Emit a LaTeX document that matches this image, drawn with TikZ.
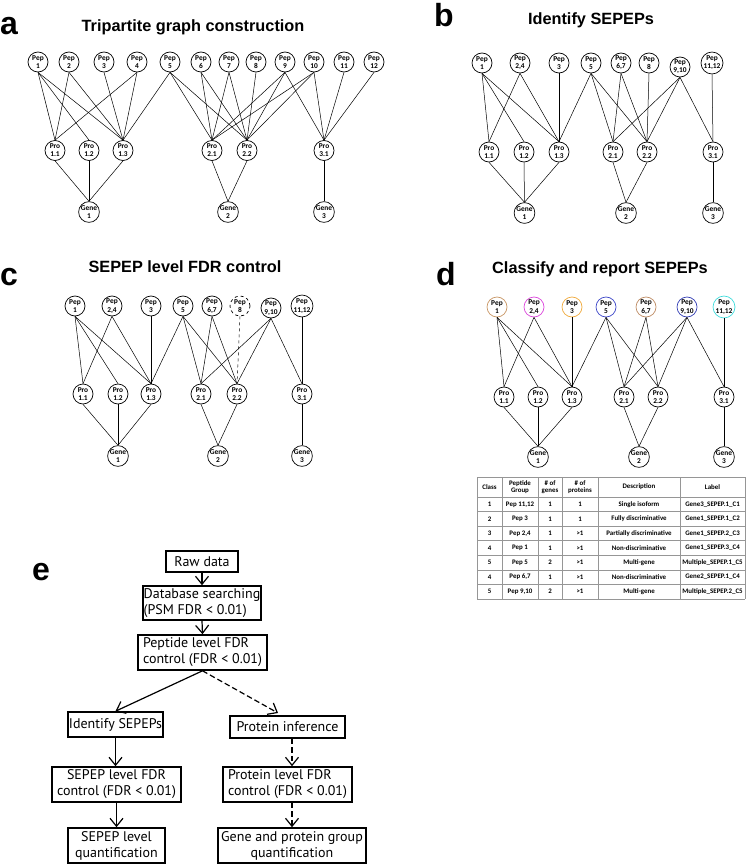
\documentclass[tikz,border=0pt]{standalone}
\usepackage{fontspec}
\setmainfont{Liberation Sans}
\newfontfamily\carlito{Carlito}
\newfontfamily\efont{PT Sans}
\usetikzlibrary{arrows.meta}
\definecolor{cpepa}{RGB}{200,150,100}
\definecolor{cpepb}{RGB}{220,70,220}
\definecolor{cpepc}{RGB}{240,170,60}
\definecolor{cpepd}{RGB}{60,70,200}
\definecolor{cpepe}{RGB}{190,140,100}
\definecolor{cpepf}{RGB}{50,60,180}
\definecolor{cpepg}{RGB}{60,220,220}
\definecolor{tabline}{RGB}{150,150,150}
\tikzset{
  gnode/.style={circle, draw, line width=0.7pt, minimum size=20pt, inner sep=0pt, align=center,
    font=\carlito\bfseries\fontsize{7.4}{8.2}\selectfont},
  edge/.style={line width=0.5pt},
  ptitle/.style={anchor=base, inner sep=0pt, font=\bfseries\fontsize{16.3}{18}\selectfont},
  pletter/.style={anchor=base, inner sep=0pt, font=\bfseries\fontsize{32}{34}\selectfont},
  tcell/.style={inner sep=0pt, align=center, font=\carlito\bfseries\fontsize{6.9}{7.6}\selectfont},
  tline/.style={draw=tabline, line width=0.5pt},
  ebox/.style={draw, line width=1.6pt, inner sep=0pt, font=\efont\fontsize{14}{16}\selectfont},
  earrow/.style={line width=1.2pt, -{Straight Barb[length=8pt,width=13pt,line width=1.2pt]}},
  edash/.style={dash pattern=on 5.5pt off 3pt}
}
\begin{document}
\begin{tikzpicture}[x=1pt,y=-1pt]
\useasboundingbox[fill=white] (0,0) rectangle (750,864);

% ---------------- panel a ----------------
\node[pletter] (la) at (9,35) {a};
\node[ptitle] (ta) at (193,32) {Tripartite graph construction};
\foreach \n/\x in {1/38,2/69,3/104,4/137,5/170,6/201,7/229,8/256,9/285,10/314,11/344,12/374}
  \node[gnode] (aP\n) at (\x,62) {Pep\\\n};
\foreach \n/\x/\l in {11/55/1.1,12/89/1.2,13/123/1.3,21/212/2.1,22/247/2.2,31/324/3.1}
  \node[gnode] (aR\n) at (\x,150.5) {Pro\\\l};
\foreach \n/\x in {1/89,2/228,3/324}
  \node[gnode] (aG\n) at (\x,212) {Gene\\\n};
\foreach \p/\r in {1/11,1/12,1/13,2/11,2/13,3/13,4/11,4/13,5/13,5/21,5/22,6/21,6/22,7/21,7/22,8/22,9/21,9/22,9/31,10/21,10/22,10/31,11/31,12/31}
  \draw[edge] (aP\p.south) -- (aR\r.north);
\foreach \r/\g in {11/1,12/1,13/1,21/2,22/2,31/3}
  \draw[edge] (aR\r.south) -- (aG\g.north);

% ---------------- panel b ----------------
\node[pletter] (lb) at (444,27) {b};
\node[ptitle] (tb) at (591,25) {Identify SEPEPs};
\foreach \n/\x/\y/\l in {1/482/63/1,24/520/63/{2,4},3/559/63/3,5/591/63/5,67/621/63/{6,7},8/649/63/8,910/680/67/{9,10},1112/712/63/{11,12}}
  \node[gnode] (bP\n) at (\x,\y) {Pep\\\l};
\foreach \n/\x/\l in {11/489/1.1,12/524/1.2,13/559/1.3,21/613/2.1,22/647/2.2,31/713/3.1}
  \node[gnode] (bR\n) at (\x,152) {Pro\\\l};
\foreach \n/\x in {1/524.5,2/626,3/713}
  \node[gnode] (bG\n) at (\x,213) {Gene\\\n};
\foreach \p/\r in {1/11,1/12,1/13,24/11,24/13,3/13,5/13,5/21,5/22,67/21,67/22,8/22,910/21,910/22,910/31,1112/31}
  \draw[edge] (bP\p.south) -- (bR\r.north);
\foreach \r/\g in {11/1,12/1,13/1,21/2,22/2,31/3}
  \draw[edge] (bR\r.south) -- (bG\g.north);

% ---------------- panel c ----------------
\node[pletter] (lc) at (9,285) {c};
\node[ptitle] (tc) at (185,272) {SEPEP level FDR control};
\foreach \n/\x/\y/\l in {1/75/306/1,24/112/306/{2,4},3/151/306/3,5/183/306/5,67/212/306/{6,7},910/271/308/{9,10},1112/302/306/{11,12}}
  \node[gnode] (cP\n) at (\x,\y) {Pep\\\l};
\node[gnode, dashed] (cP8) at (240,306) {Pep\\8};
\foreach \n/\x/\l in {11/83/1.1,12/118/1.2,13/151/1.3,21/201/2.1,22/237/2.2,31/302/3.1}
  \node[gnode] (cR\n) at (\x,394) {Pro\\\l};
\foreach \n/\x in {1/118,2/218,3/302}
  \node[gnode] (cG\n) at (\x,456) {Gene\\\n};
\foreach \p/\r in {1/11,1/12,1/13,24/11,24/13,3/13,5/13,5/21,5/22,67/21,67/22,910/21,910/22,910/31,1112/31}
  \draw[edge] (cP\p.south) -- (cR\r.north);
\draw[edge, dashed] (cP8.south) -- (cR22.north);
\foreach \r/\g in {11/1,12/1,13/1,21/2,22/2,31/3}
  \draw[edge] (cR\r.south) -- (cG\g.north);

% ---------------- panel d ----------------
\node[pletter] (ld) at (446,285) {d};
\node[ptitle] (td) at (600,273) {Classify and report SEPEPs};
\foreach \n/\x/\l/\c in {1/497/1/cpepa,24/534/{2,4}/cpepb,3/572/3/cpepc,5/606/5/cpepd,67/646/{6,7}/cpepe,910/687/{9,10}/cpepf,1112/724/{11,12}/cpepg}
  \node[gnode, draw=\c] (dP\n) at (\x,307) {Pep\\\l};
\foreach \n/\x/\l in {11/504/1.1,12/538/1.2,13/572/1.3,21/624/2.1,22/658/2.2,31/724/3.1}
  \node[gnode] (dR\n) at (\x,397) {Pro\\\l};
\foreach \n/\x in {1/538,2/639,3/724}
  \node[gnode] (dG\n) at (\x,457) {Gene\\\n};
\foreach \p/\r in {1/11,1/12,1/13,24/11,24/13,3/13,5/13,5/21,5/22,67/21,67/22,910/21,910/22,910/31,1112/31}
  \draw[edge] (dP\p.south) -- (dR\r.north);
\foreach \r/\g in {11/1,12/1,13/1,21/2,22/2,31/3}
  \draw[edge] (dR\r.south) -- (dG\g.north);

% ---------------- table ----------------
\foreach \x in {477,502,538,562,598,680,745}
  \draw[tline] (\x,477) -- (\x,599);
\foreach \y in {477,497,511.6,526.1,540.7,555.3,569.9,584.4,599}
  \draw[tline] (477,\y) -- (745,\y);
\node[tcell] (h1) at (489.5,487) {Class};
\node[tcell] (h2) at (520,487) {Peptide\\Group};
\node[tcell] (h3) at (550,487) {\# of\\genes};
\node[tcell] (h4) at (580,487) {\# of\\proteins};
\node[tcell] (h5) at (639,487) {Description};
\node[tcell] (h6) at (712.5,487) {Label};
\foreach \i/\cl/\pg/\ng/\np/\de/\la in {
  1/1/Pep 11{,}12/1/1/Single isoform/Gene3\_SEPEP.1\_C1,
  2/2/Pep 3/1/1/Fully discriminative/Gene1\_SEPEP.1\_C2,
  3/3/Pep 2{,}4/1/>1/Partially discriminative/Gene1\_SEPEP.2\_C3,
  4/4/Pep 1/1/>1/Non-discriminative/Gene1\_SEPEP.3\_C4,
  5/5/Pep 5/2/>1/Multi-gene/Multiple\_SEPEP.1\_C5,
  6/4/Pep 6{,}7/1/>1/Non-discriminative/Gene2\_SEPEP.1\_C4,
  7/5/Pep 9{,}10/2/>1/Multi-gene/Multiple\_SEPEP.2\_C5}
{
  \pgfmathsetmacro{\yy}{497+14.57*(\i-0.5)}
  \node[tcell] (r\i a) at (489.5,\yy) {\cl};
  \node[tcell] (r\i b) at (520,\yy) {\pg};
  \node[tcell] (r\i c) at (550,\yy) {\ng};
  \node[tcell] (r\i d) at (580,\yy) {\np};
  \node[tcell] (r\i e) at (639,\yy) {\de};
  \node[tcell] (r\i f) at (712.5,\yy) {\la};
}

% ---------------- panel e ----------------
\node[pletter] (le) at (41,580) {e};
\node[ebox, minimum width=72pt, minimum height=21pt] (raw) at (202,561.5) {Raw data};
\node[ebox, minimum width=118pt, minimum height=34pt, align=left] (db) at (202,603) {Database searching\\(PSM FDR < 0.01)};
\node[ebox, minimum width=129pt, minimum height=35pt, align=left] (pepfdr) at (202.5,652.5) {Peptide level FDR\\control (FDR < 0.01)};
\node[ebox, minimum width=95pt, minimum height=25pt] (ident) at (115.5,724.5) {Identify SEPEPs};
\node[ebox, minimum width=115pt, minimum height=22pt] (protinf) at (287.5,727) {Protein inference};
\node[ebox, minimum width=129pt, minimum height=35pt, align=center] (sepfdr) at (116.5,784.5) {SEPEP level FDR\\control (FDR < 0.01)};
\node[ebox, minimum width=129pt, minimum height=35pt, align=left] (protfdr) at (287.5,784.5) {Protein level FDR\\control (FDR < 0.01)};
\node[ebox, minimum width=97pt, minimum height=35pt, align=center] (sepq) at (116.5,845.5) {SEPEP level\\quantification};
\node[ebox, minimum width=148pt, minimum height=35pt, align=center] (geneq) at (292,845.5) {Gene and protein group\\quantification};
\coordinate (pitip) at (278,713);
\draw[earrow] (raw.south) -- (db.north);
\draw[earrow] (db.south) -- (pepfdr.north);
\draw[earrow] (pepfdr.south) -- (ident.north);
\draw[earrow, edash] (pepfdr.south) -- (pitip);
\draw[earrow] (ident.south) -- (ident.south |- sepfdr.north);
\draw[earrow] (sepfdr.south) -- (sepq.north);
\draw[earrow, edash] ([xshift=4.5pt]protinf.south) -- ([xshift=4.5pt]protfdr.north);
\draw[earrow, edash] ([xshift=4.5pt]protfdr.south) -- (geneq.north);
\end{tikzpicture}
\end{document}
